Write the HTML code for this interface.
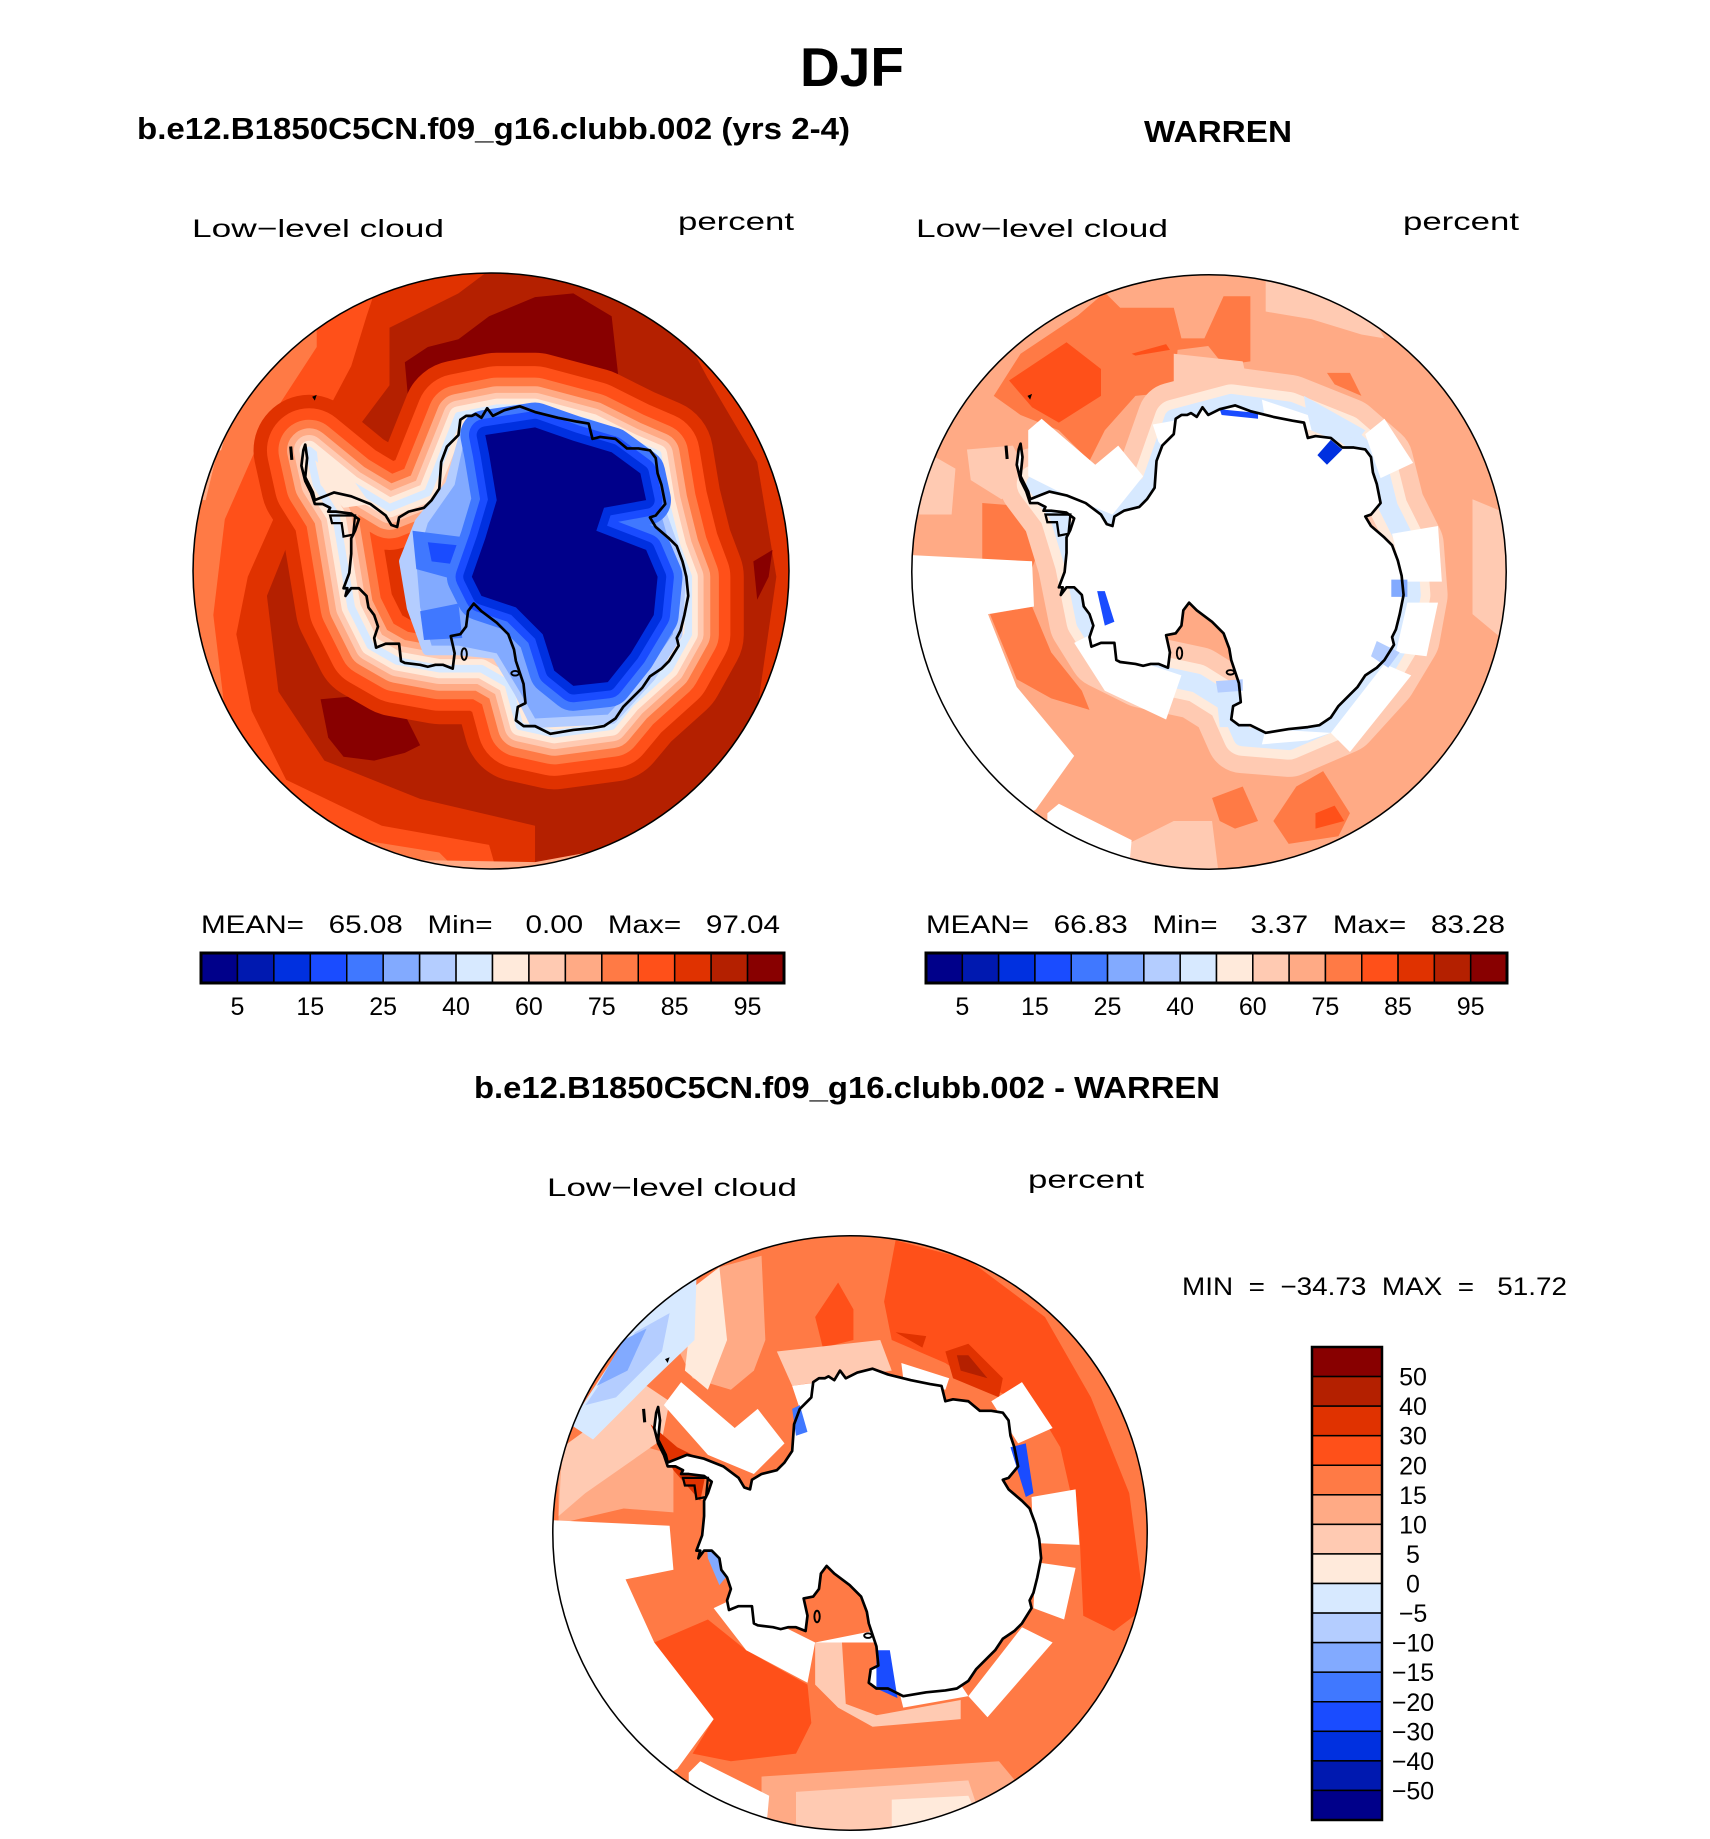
<!DOCTYPE html>
<html><head><meta charset="utf-8"><style>
html,body{margin:0;padding:0;background:#fff;}
svg{display:block;font-family:"Liberation Sans",sans-serif;}
text{white-space:pre;}
.t{font-weight:bold;fill:#000;}
.n{fill:#000;font-size:25px;}
</style></head><body>
<svg id="fig" width="1710" height="1839" viewBox="0 0 1710 1839" xmlns="http://www.w3.org/2000/svg">
<defs>
 <clipPath id="cc"><circle cx="785" cy="785" r="778"/></clipPath>
 <path id="coast" d="M300,455 L305,490 300,540 320,580 325,600 350,590 375,580 420,590 470,610 490,625 510,640 525,665 540,670 545,645 570,630 610,620 630,600 650,570 655,500 670,460 700,430 705,390 720,380 735,380 745,375 760,385 775,360 790,380 820,365 860,355 900,370 960,385 1010,395 1040,400 1050,440 1070,435 1110,440 1140,465 1170,465 1200,470 1215,490 1220,530 1230,560 1240,610 1215,640 1200,645 1215,670 1250,700 1270,720 1285,760 1295,800 1300,850 1290,900 1280,940 1270,960 1275,980 1250,1020 1230,1040 1200,1060 1180,1090 1160,1110 1130,1140 1110,1170 1080,1190 1050,1195 1000,1200 940,1210 900,1190 870,1190 850,1175 855,1140 875,1130 870,1080 860,1050 850,1020 845,990 830,950 800,920 760,890 740,870 725,890 720,930 705,950 680,955 690,1000 685,1040 660,1030 640,1030 620,1035 600,1030 560,1025 550,1020 545,975 510,975 485,985 480,960 490,930 480,900 465,880 460,850 440,830 420,830 405,850 410,830 400,830 415,790 420,740 420,700 430,680 440,650 420,635 380,630 360,630 365,620 345,610 325,610 315,580 300,550 290,510 295,470 Z"/>
 <g id="coastline">
  <use href="#coast" fill="none" stroke="#000" stroke-width="7" stroke-linejoin="round"/>
  <path d="M365,640 L430,640 L425,690 L400,695 L395,660 L370,660 Z" fill="none" stroke="#000" stroke-width="6"/>
  <path d="M262,460 L265,495" stroke="#000" stroke-width="8"/>
  <ellipse cx="715" cy="1002" rx="7" ry="15" fill="none" stroke="#000" stroke-width="5"/>
  <ellipse cx="848" cy="1052" rx="10" ry="6" fill="none" stroke="#000" stroke-width="5"/>
  <path d="M318,330 L330,325 L325,340 Z" fill="#000"/>
 </g>
</defs>

<text class="t" x="852" y="86" font-size="55" text-anchor="middle">DJF</text>
<text class="t" x="137" y="139" font-size="31" textLength="713" lengthAdjust="spacingAndGlyphs">b.e12.B1850C5CN.f09_g16.clubb.002 (yrs 2-4)</text>
<text class="t" x="1144" y="142" font-size="31" textLength="148" lengthAdjust="spacingAndGlyphs">WARREN</text>

<text class="n" x="192" y="237" font-size="30" textLength="252" lengthAdjust="spacingAndGlyphs">Low−level cloud</text>
<text class="n" x="678" y="230" font-size="30" textLength="116" lengthAdjust="spacingAndGlyphs">percent</text>
<text class="n" x="916" y="237" font-size="30" textLength="252" lengthAdjust="spacingAndGlyphs">Low−level cloud</text>
<text class="n" x="1403" y="230" font-size="30" textLength="116" lengthAdjust="spacingAndGlyphs">percent</text>

<!-- LEFT MAP -->
<g transform="translate(491,571) scale(0.383) translate(-785,-785)">
 <g clip-path="url(#cc)">
  <rect width="1570" height="1570" fill="#b42000"/>
  <path fill="#e03200" d="M780,0 L0,0 L0,1565 L900,1565 L900,1450 L600,1380 L350,1280 L230,1100 L200,850 L260,700 L380,520 L430,420 L520,300 L520,150 L700,60 Z"/>
  <path fill="#e03200" d="M1200,0 L1570,0 L1570,1570 L1100,1570 L1350,1400 L1480,1150 L1530,800 L1480,500 L1350,280 Z"/>
  <path fill="#ff5019" d="M500,0 L0,0 L0,1570 L800,1570 L780,1500 L500,1450 L250,1330 L160,1150 L120,950 L150,800 L230,620 L330,420 L420,250 L460,120 Z"/>
  <path fill="#ff7a45" d="M330,0 L0,0 L0,1570 L700,1570 L650,1520 L400,1480 L200,1350 L90,1150 L60,900 L90,650 L200,400 L330,200 Z"/>
  <path fill="#ffaa85" d="M250,150 L100,350 L40,600 L0,600 L0,0 Z"/>
  <path fill="#ffaa85" d="M300,1470 L600,1540 L900,1545 L1200,1490 L1570,1570 L0,1570 Z"/>
  <path fill="#ffcab2" d="M200,170 L120,330 L80,470 L0,470 L0,0 Z"/>
  <path fill="#ffeadb" d="M150,260 L100,380 L70,440 L40,420 L100,300 Z"/>
  <path fill="#880000" d="M560,240 L620,200 L700,180 L780,120 L900,70 L1000,60 L1100,120 L1120,300 L1080,310 L950,240 L880,280 L800,300 L700,330 L570,350 Z"/>
  <path fill="#880000" d="M340,1120 L450,1110 L560,1160 L600,1240 L560,1260 L480,1280 L400,1270 L360,1220 Z"/>
  <path fill="#880000" d="M1470,760 L1520,730 L1510,800 L1480,860 Z"/>
  <path id="halo" d="M700,380 L800,360 L900,360 L1050,400 L1150,450 L1220,480 L1240,600 L1270,720 L1300,800 L1300,950 L1250,1040 L1150,1130 L1100,1190 L950,1210 L860,1190 L830,1080 L760,1040 L650,1040 L540,1020 L470,980 L420,880 L400,760 L380,640 L330,560 L310,470 L420,560 L520,620 L620,580 Z" fill="none" stroke-linejoin="round"/>
  <use href="#halo" stroke="#e03200" stroke-width="290"/>
  <use href="#halo" stroke="#ff5019" stroke-width="220"/>
  <use href="#halo" stroke="#ff7a45" stroke-width="160"/>
  <use href="#halo" stroke="#ffaa85" stroke-width="115"/>
  <use href="#halo" stroke="#ffcab2" stroke-width="80"/>
  <use href="#halo" stroke="#ffeadb" stroke-width="50"/>
  <use href="#halo" stroke="#d7e9ff" stroke-width="20" fill="#d7e9ff"/>
  <path fill="#ffeadb" d="M330,470 L420,540 L470,610 L400,620 L340,560 Z"/>
  <path fill="#b4cdff" stroke="#b4cdff" stroke-width="30" stroke-linejoin="round" d="M720,420 L900,380 L1050,420 L1200,500 L1230,640 L1280,780 L1270,950 L1200,1060 L1100,1170 L900,1180 L860,1100 L800,1000 L700,990 L620,990 L580,880 L560,760 L600,660 L680,560 Z"/>
  <path fill="#82aaff" d="M720,420 L900,380 L1050,420 L1200,500 L1230,640 L1270,780 L1260,950 L1190,1050 L1090,1160 L900,1170 L860,1100 L800,1000 L700,980 L630,980 L600,880 L590,760 L620,660 L690,560 Z"/>
  <path fill="#4078ff" d="M580,680 L740,700 L740,790 L700,810 L590,780 Z"/>
  <path fill="#1a4cff" d="M620,710 L720,720 L710,770 L630,760 Z"/>
  <path fill="#4078ff" d="M600,890 L700,870 L710,960 L610,965 Z"/>
  <path id="core" d="M770,430 L900,410 L1000,445 L1100,475 L1175,530 L1190,600 L1080,620 L1060,680 L1190,730 L1220,800 L1210,900 L1150,1000 L1090,1075 L1000,1085 L950,1045 L920,950 L850,880 L760,850 L735,800 L770,700 L800,600 L780,480 Z" stroke-linejoin="round"/>
  <use href="#core" stroke="#4078ff" stroke-width="130" fill="#4078ff"/>
  <use href="#core" stroke="#1a4cff" stroke-width="85"/>
  <use href="#core" stroke="#0030e0" stroke-width="45"/>
  <use href="#core" fill="#00008a"/>
 </g>
 <use href="#coastline"/>
 <circle cx="785" cy="785" r="778" fill="none" stroke="#000" stroke-width="4"/>
</g>

<!-- RIGHT MAP -->
<g transform="translate(1209,572) scale(0.383) translate(-792,-790)">
 <clipPath id="cc2"><circle cx="792" cy="790" r="776"/></clipPath>
 <g clip-path="url(#cc2)">
  <rect width="1600" height="1600" fill="#ffaa85"/>
  <path fill="#ff7a45" d="M230,330 L300,220 L450,120 L520,60 L560,100 L700,100 L720,180 L780,180 L830,70 L900,70 L900,240 L830,250 L790,200 L710,210 L700,320 L600,330 L520,420 L480,500 L400,420 L300,380 Z"/>
  <path fill="#ff5019" d="M270,290 L420,190 L510,260 L510,330 L400,400 L330,360 Z"/>
  <path fill="#ff5019" d="M590,220 L680,195 L690,210 L600,225 Z"/>
  <path fill="#ff7a45" d="M200,610 L330,620 L360,700 L330,780 L200,760 Z"/>
  <path fill="#ff7a45" d="M220,900 L330,880 L380,1000 L460,1100 L480,1150 L380,1120 L290,1070 Z"/>
  <path fill="#ff7a45" d="M800,1380 L880,1350 L920,1440 L860,1460 L820,1440 Z"/>
  <path fill="#ff7a45" d="M1020,1350 L1090,1310 L1160,1420 L1130,1480 L1000,1500 L960,1440 Z"/>
  <path fill="#ff5019" d="M1070,1420 L1120,1400 L1145,1440 L1070,1460 Z"/>
  <path fill="#ff7a45" d="M1100,270 L1160,270 L1190,330 L1120,300 Z"/>
  <path fill="#ffcab2" d="M940,20 L1180,60 L1250,180 L1190,170 L1060,130 L940,110 Z"/>
  <path fill="#ffcab2" d="M1480,600 L1600,650 L1600,1000 L1480,900 Z"/>
  <path fill="#ffcab2" d="M30,640 L120,640 L130,520 L60,480 L30,540 Z"/>
  <path fill="#ffcab2" d="M160,470 L280,460 L330,560 L250,600 L170,550 Z"/>
  <path fill="#ffcab2" d="M580,1500 L700,1440 L800,1440 L820,1600 L580,1600 Z"/>
  <path fill="#ffcab2" d="M700,220 L880,240 L900,330 L700,330 Z"/>
  <path id="halo2" d="M700,390 L850,350 L1000,370 L1150,430 L1230,500 L1260,620 L1310,720 L1320,850 L1300,960 L1240,1060 L1140,1170 L1000,1230 L880,1220 L840,1130 L760,1080 L620,1050 L520,1000 L470,920 L440,770 L400,640 L340,560 L420,580 L540,640 L640,560 Z" fill="none" stroke-linejoin="round"/>
  <use href="#halo2" stroke="#ffcab2" stroke-width="190"/>
  <use href="#halo2" stroke="#ffeadb" stroke-width="100"/>
  <use href="#halo2" stroke="#d7e9ff" stroke-width="50" fill="#fff"/>
  <path fill="#d7e9ff" d="M1040,330 L1200,420 L1180,445 L1050,400 Z"/>
  <path fill="#d7e9ff" d="M810,1100 L890,1100 L880,1195 L820,1195 Z"/>
  <g fill="#fff">
   <path d="M0,745 L330,762 L335,880 L215,900 L290,1090 L440,1270 L340,1410 L0,1600 Z"/>
   <path d="M370,1420 L400,1395 L590,1490 L580,1600 L370,1600 Z"/>
   <path d="M440,975 L530,930 L600,1020 L720,1060 L680,1175 L520,1100 Z"/>
   <path d="M320,420 L355,390 L495,510 L555,460 L620,540 L540,640 L440,600 L320,540 Z"/>
   <path d="M645,405 L700,395 L700,500 L660,450 Z"/>
   <path d="M930,340 L1050,380 L1060,420 L940,400 Z"/>
   <path d="M1200,430 L1250,390 L1325,505 L1240,545 Z"/>
   <path d="M1270,690 L1390,670 L1400,815 L1300,815 Z"/>
   <path d="M1310,870 L1390,870 L1360,1010 L1280,1000 Z"/>
   <path d="M1250,1030 L1320,1060 L1160,1260 L1110,1210 Z"/>
   <path d="M940,1200 L1110,1210 L1050,1230 L930,1240 Z"/>
   <use href="#coast"/>
  </g>
  <path fill="#1a4cff" d="M820,365 L920,375 L920,390 L825,380 Z"/>
  <path fill="#0030e0" d="M1075,485 L1110,445 L1140,470 L1100,510 Z"/>
  <path fill="#1a4cff" d="M500,840 L520,840 L545,920 L520,930 Z"/>
  <path fill="#82aaff" d="M1268,810 L1310,810 L1310,855 L1268,855 Z"/>
  <path fill="#b4cdff" d="M1230,970 L1290,1000 L1260,1040 L1215,1010 Z"/>
  <path fill="#b4cdff" d="M810,1075 L880,1070 L880,1100 L815,1105 Z"/>
 </g>
 <use href="#coastline"/>
 <circle cx="792" cy="790" r="776" fill="none" stroke="#000" stroke-width="4"/>
</g>

<!-- Horizontal colorbars -->
<g id="cb-left"></g>
<g id="cb-right"></g>
<text class="n" x="201" y="933" textLength="579" lengthAdjust="spacingAndGlyphs">MEAN=   65.08   Min=    0.00   Max=   97.04</text>
<text class="n" x="926" y="933" textLength="579" lengthAdjust="spacingAndGlyphs">MEAN=   66.83   Min=    3.37   Max=   83.28</text>

<!-- Bottom -->
<text class="t" x="474" y="1098" font-size="31" textLength="746" lengthAdjust="spacingAndGlyphs">b.e12.B1850C5CN.f09_g16.clubb.002 - WARREN</text>
<text class="n" x="547" y="1196" font-size="30" textLength="250" lengthAdjust="spacingAndGlyphs">Low−level cloud</text>
<text class="n" x="1028" y="1188" font-size="30" textLength="116" lengthAdjust="spacingAndGlyphs">percent</text>
<text class="n" x="1182" y="1295" textLength="385" lengthAdjust="spacingAndGlyphs">MIN  =  −34.73  MAX  =   51.72</text>

<g transform="translate(850,1533) scale(0.383) translate(-791,-804)">
 <clipPath id="cc3"><circle cx="791" cy="804" r="776"/></clipPath>
 <g clip-path="url(#cc3)">
  <rect width="1600" height="1600" fill="#ff7a45"/>
  <path fill="#ff5019" d="M910,40 L1100,90 L1300,240 L1420,450 L1520,700 L1560,1000 L1480,1060 L1400,1020 L1390,800 L1340,580 L1280,480 L1100,400 L1040,360 L900,300 L880,200 Z"/>
  <path fill="#ff5019" d="M280,1090 L420,1030 L520,1110 L680,1200 L690,1300 L650,1380 L480,1400 L380,1380 L435,1290 Z"/>
  <path fill="#ff5019" d="M700,240 L760,150 L800,220 L800,300 L720,320 Z"/>
  <path fill="#ffaa85" d="M450,110 L560,80 L570,300 L540,380 L480,430 L380,400 L330,300 L390,200 Z"/>
  <path fill="#ffaa85" d="M560,1440 L1180,1400 L1230,1460 L1200,1600 L560,1600 Z"/>
  <path fill="#ffaa85" d="M30,640 L190,560 L330,600 L330,750 L200,740 L30,780 Z"/>
  <path fill="#ffcab2" d="M40,580 L260,420 L320,460 L300,560 L100,700 L30,760 Z"/>
  <path fill="#ffcab2" d="M650,1480 L1100,1450 L1150,1600 L650,1600 Z"/>
  <path fill="#ffeadb" d="M385,160 L450,110 L470,300 L420,430 L360,380 Z"/>
  <path fill="#ffeadb" d="M900,1500 L1100,1490 L1150,1600 L900,1600 Z"/>
  <path fill="#d7e9ff" d="M60,520 L250,230 L390,140 L385,300 L260,420 L120,560 Z"/>
  <path fill="#b4cdff" d="M100,470 L230,280 L320,230 L300,330 L180,450 Z"/>
  <path fill="#82aaff" d="M130,420 L200,300 L260,270 L210,380 Z"/>
  <path fill="#ffcab2" d="M600,330 L870,300 L900,380 L640,420 Z"/>
  <path fill="#e03200" d="M270,520 L340,580 L420,620 L400,720 L330,640 Z"/>
  <path fill="#e03200" d="M910,280 L990,290 L980,320 Z"/>
  <path fill="#e03200" d="M1040,330 L1100,310 L1190,400 L1180,450 L1060,400 Z"/>
  <path fill="#b42000" d="M1070,340 L1100,340 L1150,400 L1080,380 Z"/>
  <path fill="#e03200" d="M500,850 L520,850 L540,940 L510,960 Z"/>
  <path fill="#82aaff" d="M410,750 L500,760 L500,880 L450,940 L420,870 Z"/>
  <path fill="#4078ff" d="M440,790 L480,800 L470,870 L445,860 Z"/>
  <path fill="#ffcab2" d="M700,1090 L770,1090 L780,1250 L860,1280 L1080,1240 L1080,1290 L850,1310 L760,1260 L700,1200 Z"/>
  <path fill="#ff7a45" d="M790,1100 L840,1100 L830,1250 L800,1250 Z"/>
  <g fill="#fff">
   <path d="M0,770 L320,785 L330,900 L205,925 L280,1090 L435,1290 L340,1420 L0,1600 Z"/>
   <path d="M370,1430 L400,1400 L580,1490 L570,1600 L370,1600 Z"/>
   <path d="M305,470 L350,410 L490,530 L550,480 L620,570 L540,650 L420,600 Z"/>
   <path d="M435,1000 L520,960 L600,1040 L700,1090 L680,1195 L520,1110 Z"/>
   <path d="M640,420 L710,410 L690,540 L660,480 Z"/>
   <path d="M925,360 L1050,400 L1040,430 L930,400 Z"/>
   <path d="M1160,460 L1240,410 L1320,530 L1230,570 Z"/>
   <path d="M1265,710 L1380,690 L1390,835 L1270,830 Z"/>
   <path d="M1275,880 L1380,895 L1350,1030 L1270,1000 Z"/>
   <path d="M1240,1050 L1320,1090 L1150,1285 L1100,1230 Z"/>
   <path d="M920,1220 L1080,1200 L1100,1230 L930,1260 Z"/>
   <path d="M700,1090 L860,1090 L850,1060 Z"/>
   <use href="#coast" transform="translate(-10,20)"/>
  </g>
  <path fill="#1a4cff" d="M860,1110 L895,1110 L915,1235 L860,1210 Z"/>
  <path fill="#1a4cff" d="M1210,580 L1250,570 L1270,700 L1250,710 Z"/>
  <path fill="#4078ff" d="M640,480 L660,470 L680,540 L650,550 Z"/>
 </g>
 <use href="#coastline" transform="translate(-10,20)"/>
 <circle cx="791" cy="804" r="776" fill="none" stroke="#000" stroke-width="4"/>
</g>

<g id="cb-diff"></g>

<script>
const NS = "http://www.w3.org/2000/svg";
const cbColors = ["#00008a","#0019b0","#0030e0","#1a4cff","#4078ff","#82aaff","#b4cdff","#d7e9ff","#ffeadb","#ffcab2","#ffaa85","#ff7a45","#ff5019","#e03200","#b42000","#880000"];
const absLabels = ["5","15","25","40","60","75","85","95"];
const absLabelBoundaries = [1,3,5,7,9,11,13,15];
const diffLabels = ["50","40","30","20","15","10","5","0","−5","−10","−15","−20","−30","−40","−50"];

function hbar(id, x0, x1, y0, y1) {
  const g = document.getElementById(id);
  const w = (x1 - x0) / cbColors.length;
  cbColors.forEach((c, i) => {
    const r = document.createElementNS(NS, "rect");
    r.setAttribute("x", x0 + i * w); r.setAttribute("y", y0);
    r.setAttribute("width", w); r.setAttribute("height", y1 - y0);
    r.setAttribute("fill", c); r.setAttribute("stroke", "#000"); r.setAttribute("stroke-width", "1.5");
    
    
    g.appendChild(r);
  });
  const o = document.createElementNS(NS, "rect");
  o.setAttribute("x", x0); o.setAttribute("y", y0); o.setAttribute("width", x1 - x0); o.setAttribute("height", y1 - y0);
  o.setAttribute("fill", "none"); o.setAttribute("stroke", "#000"); o.setAttribute("stroke-width", "3");
  
  
  g.appendChild(o);
  absLabels.forEach((lab, i) => {
    const t = document.createElementNS(NS, "text");
    t.setAttribute("x", x0 + absLabelBoundaries[i] * w); t.setAttribute("y", 1015);
    t.setAttribute("text-anchor", "middle"); t.setAttribute("class", "n");
    t.textContent = lab;
    
    
    g.appendChild(t);
  });
}
hbar("cb-left", 201, 784, 953, 983);
hbar("cb-right", 926, 1507, 953, 983);

(function(){
  const g = document.getElementById("cb-diff");
  const x0 = 1312, x1 = 1382, y0 = 1347, y1 = 1820;
  const h = (y1 - y0) / cbColors.length;
  const rev = cbColors.slice().reverse();
  rev.forEach((c, i) => {
    const r = document.createElementNS(NS, "rect");
    r.setAttribute("x", x0); r.setAttribute("y", y0 + i * h);
    r.setAttribute("width", x1 - x0); r.setAttribute("height", h);
    r.setAttribute("fill", c); r.setAttribute("stroke", "#000"); r.setAttribute("stroke-width", "1.5");
    
    
    g.appendChild(r);
  });
  const o = document.createElementNS(NS, "rect");
  o.setAttribute("x", x0); o.setAttribute("y", y0); o.setAttribute("width", x1 - x0); o.setAttribute("height", y1 - y0);
  o.setAttribute("fill", "none"); o.setAttribute("stroke", "#000"); o.setAttribute("stroke-width", "2.5");
  
  
  g.appendChild(o);
  diffLabels.forEach((lab, i) => {
    const t = document.createElementNS(NS, "text");
    t.setAttribute("x", 1413); t.setAttribute("y", y0 + (i + 1) * h + 9);
    t.setAttribute("text-anchor", "middle"); t.setAttribute("class", "n");
    t.textContent = lab;
    
    
    g.appendChild(t);
  });
})();
</script>
</svg>
</body></html>
